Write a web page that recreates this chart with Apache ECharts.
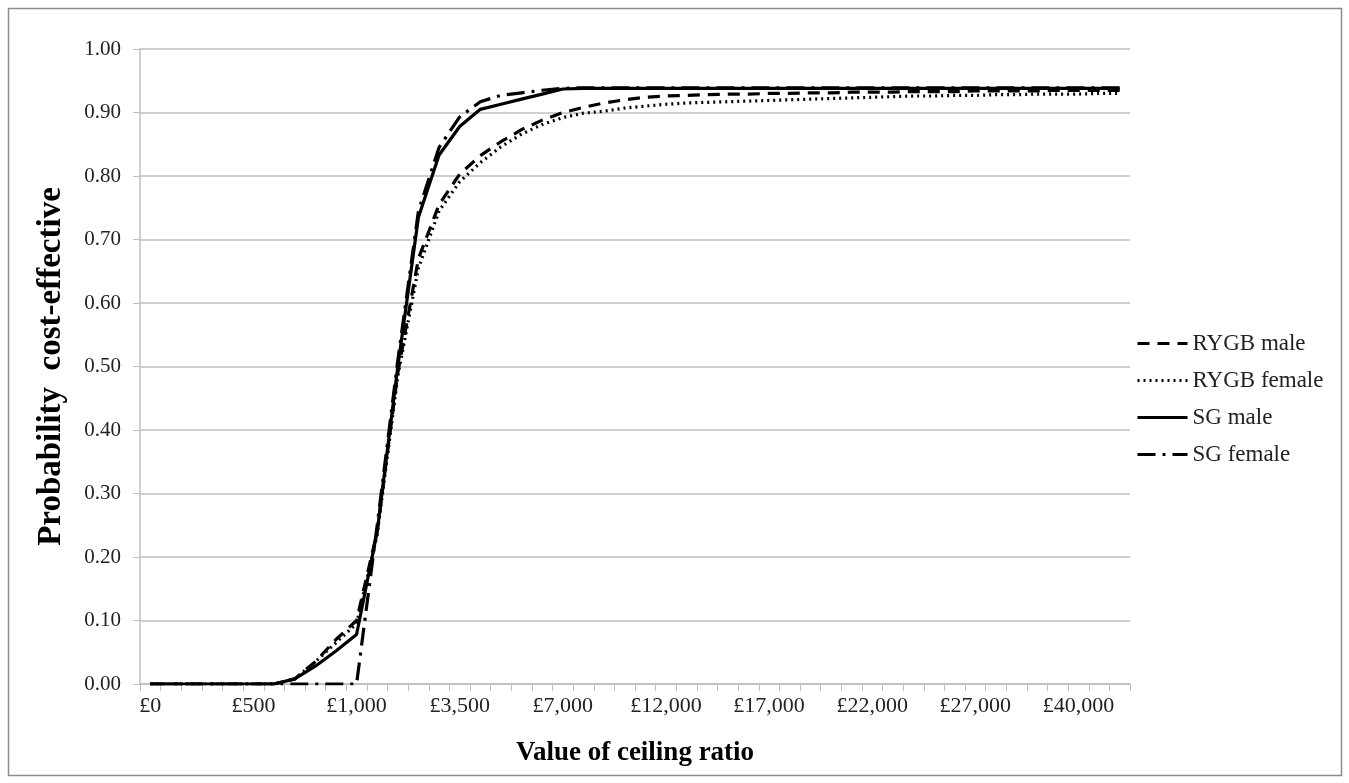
<!DOCTYPE html>
<html>
<head>
<meta charset="utf-8">
<script src="https://cdn.jsdelivr.net/npm/echarts@6/dist/echarts.min.js"></script>
<style>
  html, body { margin: 0; padding: 0; background: #fff; }
  #chart { width: 1349px; height: 783px; }
</style>
</head>
<body>
<div id="chart"></div>
<script>
// ceiling ratio values (GBP), one per category on the x axis
var ceilings = [0, 100, 200, 300, 400, 500, 600, 700, 800, 900,
  1000, 1500, 2000, 2500, 3000, 3500, 4000, 4500, 5000, 6000,
  7000, 8000, 9000, 10000, 11000, 12000, 13000, 14000, 15000, 16000,
  17000, 18000, 19000, 20000, 21000, 22000, 23000, 24000, 25000, 26000,
  27000, 28000, 29000, 30000, 35000, 40000, 45000, 50000];

var rygbMale = [0, 0, 0, 0, 0, 0, 0, 0.008, 0.035, 0.07,
  0.10, 0.24, 0.49, 0.67, 0.755, 0.803, 0.832, 0.854, 0.873, 0.888,
  0.90, 0.908, 0.915, 0.92, 0.924, 0.926, 0.927, 0.928, 0.929, 0.929,
  0.930, 0.930, 0.931, 0.931, 0.932, 0.932, 0.932, 0.933, 0.933, 0.933,
  0.934, 0.934, 0.934, 0.934, 0.935, 0.935, 0.935, 0.935];

var rygbFemale = [0, 0, 0, 0, 0, 0, 0, 0.008, 0.035, 0.065,
  0.095, 0.235, 0.485, 0.655, 0.745, 0.791, 0.821, 0.846, 0.866, 0.881,
  0.892, 0.899, 0.902, 0.907, 0.91, 0.913, 0.915, 0.916, 0.917, 0.918,
  0.919, 0.920, 0.921, 0.922, 0.923, 0.924, 0.925, 0.926, 0.926, 0.927,
  0.927, 0.928, 0.928, 0.929, 0.929, 0.929, 0.930, 0.930];

var sgMale = [0, 0, 0, 0, 0, 0, 0, 0.008, 0.028, 0.052,
  0.078, 0.24, 0.50, 0.735, 0.833, 0.878, 0.905, 0.913, 0.921, 0.929,
  0.937, 0.938, 0.938, 0.938, 0.938, 0.938, 0.938, 0.938, 0.938, 0.938,
  0.938, 0.938, 0.938, 0.938, 0.938, 0.938, 0.938, 0.938, 0.938, 0.938,
  0.938, 0.938, 0.938, 0.938, 0.938, 0.938, 0.938, 0.938];

var sgFemale = [0, 0, 0, 0, 0, 0, 0, 0, 0, 0,
  0, 0.25, 0.51, 0.745, 0.845, 0.893, 0.917, 0.927, 0.931, 0.935,
  0.938, 0.939, 0.939, 0.939, 0.939, 0.939, 0.939, 0.939, 0.939, 0.939,
  0.939, 0.939, 0.939, 0.939, 0.939, 0.939, 0.939, 0.939, 0.939, 0.939,
  0.939, 0.939, 0.939, 0.939, 0.939, 0.939, 0.939, 0.939];

function pounds(v) {
  return "£" + String(v).replace(/\B(?=(\d{3})+(?!\d))/g, ",");
}

var serif = "Liberation Serif";
var myChart = echarts.init(document.getElementById("chart"));

function lineSeries(name, data, dash) {
  return {
    name: name,
    type: "line",
    data: data,
    symbol: "none",
    smooth: false,
    lineStyle: { color: "#000", width: 3.2, type: dash },
    itemStyle: { color: "#000" }
  };
}

var option = {
  backgroundColor: "#fff",
  animation: false,
  textStyle: { fontFamily: serif },
  graphic: [{
    type: "rect",
    shape: { x: 8.5, y: 8.5, width: 1333, height: 767 },
    style: { fill: "none", stroke: "#8c8c8c", lineWidth: 1.5 }
  }],
  grid: { left: 140, right: 219, top: 49, bottom: 99 },
  legend: {
    orient: "vertical",
    left: 1136,
    top: 332,
    padding: 0,
    itemWidth: 50,
    itemHeight: 14,
    itemGap: 14,
    itemStyle: { opacity: 0 },
    lineStyle: { width: 3 },
    textStyle: { fontFamily: serif, fontSize: 23, color: "#222" },
    data: ["RYGB male", "RYGB female", "SG male", "SG female"]
  },
  xAxis: {
    type: "category",
    data: ceilings,
    boundaryGap: true,
    name: "Value of ceiling ratio",
    nameLocation: "middle",
    nameGap: 56,
    nameTextStyle: { fontFamily: serif, fontSize: 27, fontWeight: "bold", color: "#000" },
    axisLine: { lineStyle: { color: "#bfbfbf", width: 1.5 } },
    axisTick: { show: true, interval: 0, length: 7, lineStyle: { color: "#bfbfbf" } },
    axisLabel: {
      interval: 4,
      margin: 11,
      fontFamily: serif,
      fontSize: 22,
      color: "#222",
      formatter: function (v) { return pounds(v); }
    },
    splitLine: { show: false }
  },
  yAxis: {
    type: "value",
    min: 0,
    max: 1,
    interval: 0.1,
    name: "Probability  cost-effective",
    nameLocation: "middle",
    nameGap: 72,
    nameTextStyle: { fontFamily: serif, fontSize: 33, fontWeight: "bold", color: "#000" },
    axisLine: { show: true, lineStyle: { color: "#bfbfbf", width: 1.5 } },
    axisTick: { show: true, length: 7, lineStyle: { color: "#bfbfbf" } },
    axisLabel: {
      margin: 19,
      fontFamily: serif,
      fontSize: 21,
      color: "#222",
      formatter: function (v) { return v.toFixed(2); }
    },
    splitLine: { lineStyle: { color: "#bfbfbf", width: 1.5 } }
  },
  series: [
    lineSeries("RYGB male", rygbMale, [12, 8]),
    lineSeries("RYGB female", rygbFemale, [2, 4]),
    lineSeries("SG male", sgMale, "solid"),
    lineSeries("SG female", sgFemale, [18, 7, 3, 7])
  ]
};
myChart.setOption(option);
</script>
</body>
</html>
